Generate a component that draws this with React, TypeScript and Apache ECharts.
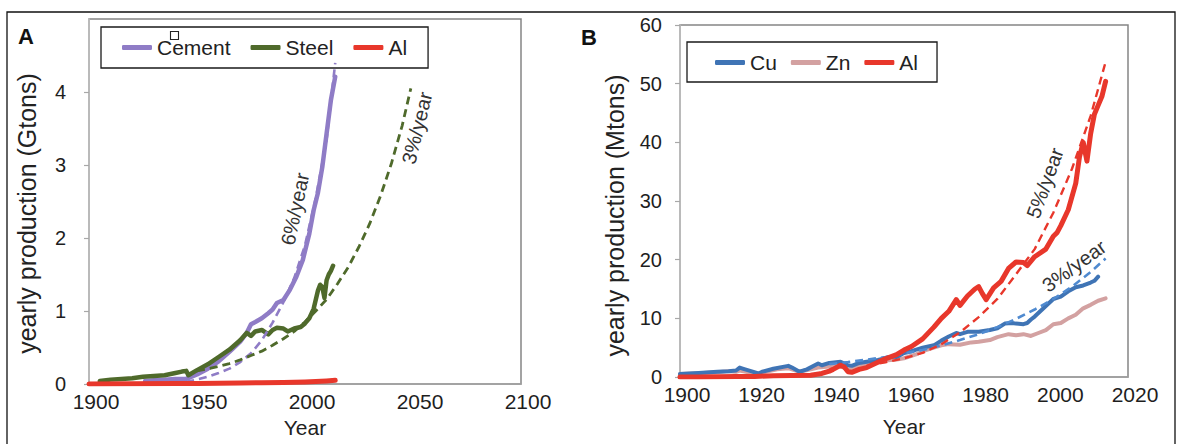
import React, { useEffect, useRef } from "react";
import * as echarts from "echarts";

const FONT = "'Liberation Sans', Arial, Helvetica, sans-serif";

// ---------- Panel A (Gtons) ----------
const cementYears = [1926, 1930, 1935, 1940, 1945, 1950, 1955, 1960, 1965, 1970, 1973, 1975, 1977, 1980, 1983, 1985, 1987, 1990, 1993, 1996, 1999, 2002, 2004, 2006, 2008, 2010, 2012, 2014];
const cementValues = [0.04, 0.05, 0.06, 0.07, 0.07, 0.13, 0.21, 0.31, 0.44, 0.58, 0.7, 0.82, 0.85, 0.9, 0.97, 1.02, 1.11, 1.15, 1.29, 1.47, 1.7, 2.06, 2.38, 2.62, 2.97, 3.43, 3.89, 4.21];
const cementTrendYears = [1945, 1950, 1955, 1960, 1965, 1970, 1975, 1980, 1985, 1990, 1995, 2000, 2005, 2010, 2014];
const cementTrendValues = [0.03, 0.06, 0.1, 0.15, 0.21, 0.3, 0.42, 0.6, 0.84, 1.12, 1.45, 1.9, 2.55, 3.35, 4.4];

const steelYears = [1905, 1910, 1915, 1920, 1925, 1930, 1935, 1940, 1943, 1945, 1946, 1950, 1955, 1960, 1965, 1970, 1973, 1975, 1977, 1980, 1983, 1985, 1987, 1990, 1992, 1995, 1998, 2000, 2002, 2004, 2006, 2007, 2008, 2009, 2010, 2011, 2012, 2013];
const steelValues = [0.04, 0.06, 0.07, 0.08, 0.1, 0.11, 0.12, 0.15, 0.17, 0.18, 0.12, 0.19, 0.27, 0.37, 0.47, 0.6, 0.7, 0.66, 0.72, 0.74, 0.68, 0.74, 0.77, 0.76, 0.72, 0.76, 0.78, 0.83, 0.9, 1.03, 1.28, 1.36, 1.33, 1.18, 1.42, 1.5, 1.55, 1.62];
const steelTrendYears = [1950, 1955, 1960, 1965, 1970, 1975, 1980, 1985, 1990, 1995, 2000, 2005, 2010, 2015, 2020, 2025, 2030, 2035, 2040, 2045, 2049];
const steelTrendValues = [0.18, 0.21, 0.24, 0.28, 0.33, 0.39, 0.45, 0.53, 0.62, 0.72, 0.85, 1.0, 1.16, 1.37, 1.6, 1.88, 2.2, 2.58, 3.02, 3.54, 4.05];

const alAYears = [1900, 1920, 1940, 1950, 1960, 1970, 1980, 1990, 2000, 2005, 2010, 2014];
const alAValues = [0.0, 0.003, 0.006, 0.008, 0.01, 0.014, 0.018, 0.022, 0.028, 0.034, 0.042, 0.05];

// ---------- Panel B (Mtons) ----------
const cuYears = [1900, 1905, 1910, 1913, 1915, 1916, 1917, 1919, 1921, 1922, 1925, 1929, 1930, 1932, 1934, 1937, 1938, 1940, 1943, 1945, 1946, 1948, 1950, 1953, 1955, 1957, 1958, 1960, 1962, 1965, 1968, 1970, 1972, 1974, 1975, 1977, 1980, 1983, 1985, 1987, 1989, 1990, 1992, 1993, 1994, 1995, 1997, 1999, 2000, 2002, 2004, 2006, 2008, 2010, 2011, 2012];
const cuValues = [0.5, 0.7, 0.9, 1.0, 1.1, 1.6, 1.4, 1.0, 0.6, 0.9, 1.4, 1.9, 1.6, 0.9, 1.3, 2.3, 2.0, 2.4, 2.6, 2.0, 1.9, 2.4, 2.6, 2.9, 3.2, 3.5, 3.4, 4.1, 4.4, 5.0, 5.4, 6.2, 6.9, 7.5, 7.3, 7.7, 7.7, 8.0, 8.3, 9.1, 9.2, 9.1, 9.0, 9.2, 9.8, 10.3, 11.5, 12.7, 13.3, 13.7, 14.6, 15.3, 15.6, 16.1, 16.4, 17.1];
const cuTrendYears = [1940, 1945, 1950, 1955, 1960, 1965, 1970, 1975, 1980, 1985, 1990, 1995, 2000, 2005, 2010, 2014];
const cuTrendValues = [2.2, 2.55, 2.95, 3.4, 4.0, 4.6, 5.4, 6.3, 7.3, 8.5, 9.9, 11.5, 13.3, 15.4, 17.9, 20.2];

const znYears = [1900, 1905, 1910, 1913, 1915, 1916, 1919, 1921, 1923, 1926, 1929, 1932, 1935, 1937, 1940, 1943, 1945, 1946, 1950, 1953, 1955, 1958, 1960, 1963, 1965, 1968, 1970, 1972, 1975, 1978, 1980, 1983, 1985, 1988, 1990, 1992, 1994, 1996, 1998, 2000, 2002, 2004, 2006, 2008, 2010, 2012, 2014];
const znValues = [0.5, 0.65, 0.8, 1.0, 0.9, 1.1, 0.7, 0.5, 0.9, 1.3, 1.5, 0.9, 1.3, 1.6, 1.8, 1.8, 1.3, 1.4, 2.1, 2.5, 2.8, 3.0, 3.2, 3.8, 4.4, 5.0, 5.4, 5.6, 5.5, 5.9, 6.0, 6.3, 6.8, 7.3, 7.1, 7.3, 7.0, 7.5, 8.0, 9.0, 9.2, 10.0, 10.6, 11.7, 12.3, 13.0, 13.4];

const alBYears = [1900, 1905, 1910, 1915, 1920, 1925, 1930, 1935, 1938, 1940, 1941, 1943, 1944, 1945, 1946, 1948, 1950, 1953, 1955, 1958, 1960, 1962, 1965, 1968, 1970, 1972, 1974, 1975, 1977, 1979, 1980, 1981, 1982, 1984, 1986, 1988, 1990, 1992, 1993, 1995, 1998, 2000, 2001, 2002, 2004, 2006, 2007, 2008, 2009, 2010, 2011, 2012, 2013, 2014];
const alBValues = [0.0, 0.0, 0.05, 0.1, 0.1, 0.2, 0.25, 0.3, 0.6, 1.0, 1.3, 2.0, 1.7, 0.9, 0.8, 1.3, 1.6, 2.5, 3.1, 3.8, 4.6, 5.2, 6.5, 8.5, 10.0, 11.2, 13.2, 12.2, 13.8, 15.0, 15.4, 14.2, 13.2, 15.2, 16.3, 18.5, 19.6, 19.5, 19.0, 20.5, 21.8, 24.0, 24.6, 25.8, 28.5, 33.0, 37.5, 40.0, 36.8, 41.5, 44.8, 46.3, 47.8, 50.4];
const alTrendYears = [1950, 1955, 1960, 1965, 1970, 1975, 1980, 1985, 1990, 1995, 2000, 2005, 2010, 2014];
const alTrendValues = [1.9, 2.5, 3.2, 4.1, 5.6, 7.6, 10.2, 13.3, 17.5, 21.8, 28.0, 35.5, 44.5, 53.7];

const zip = (xs: number[], ys: number[]) => xs.map((x, i) => [x, ys[i]]);

const C_CEMENT = "#8f7cc6";
const C_STEEL = "#4f6a2b";
const C_AL = "#e8372b";
const C_CU = "#3f74b5";
const C_CU_DASH = "#4f8ad0";
const C_ZN = "#d3a1a1";
const TXT = "#1e1e1e";

const solid = (name: string, data: number[][], color: string, idx: number, width = 4.5) => ({
  type: "line",
  name,
  xAxisIndex: idx,
  yAxisIndex: idx,
  data,
  color,
  showSymbol: false,
  symbol: "none",
  silent: true,
  lineStyle: { color, width, cap: "round", join: "round" },
});
const dashed = (name: string, data: number[][], color: string, idx: number, width = 2.6) => ({
  type: "line",
  name,
  xAxisIndex: idx,
  yAxisIndex: idx,
  data,
  color,
  showSymbol: false,
  symbol: "none",
  silent: true,
  lineStyle: { color, width, type: [8, 5] },
});

const xAxisBase = (idx: number, min: number, max: number, interval: number, nameGap: number) => ({
  type: "value",
  gridIndex: idx,
  min,
  max,
  interval,
  name: "Year",
  nameLocation: "middle",
  nameGap,
  nameTextStyle: { fontSize: 21, color: "#222", fontFamily: FONT },
  axisLine: { show: true, onZero: false, lineStyle: { color: "#a3a3a3", width: 1.5 } },
  axisTick: { show: false },
  splitLine: { show: false },
  axisLabel: { fontSize: 21, color: TXT, fontFamily: FONT, margin: 7, padding: [0, 0, 0, 14], formatter: (v: number) => String(v) },
});

const yAxisBase = (idx: number, max: number, interval: number, name: string, nameGap: number, shift: number, margin: number, showMax: boolean) => ({
  type: "value",
  gridIndex: idx,
  min: 0,
  max,
  interval,
  name,
  nameLocation: "middle",
  nameGap,
  nameTextStyle: { fontSize: 25, color: "#222", fontFamily: FONT, padding: [0, shift, 0, 0] },
  axisLine: { show: true, onZero: false, lineStyle: { color: "#c2c2c2", width: 1.5 } },
  axisTick: { show: true, inside: false, length: 5, lineStyle: { color: "#a8a8a8", width: 1.2 } },
  splitLine: { show: false },
  axisLabel: { fontSize: 20, color: TXT, fontFamily: FONT, margin, showMaxLabel: showMax, formatter: (v: number) => String(v) },
});

const annot = (text: string, x: number, y: number, deg: number) => ({
  type: "text",
  x,
  y,
  rotation: (deg * Math.PI) / 180,
  silent: true,
  style: { text, fontSize: 20, fontFamily: FONT, fill: "#333", align: "center", verticalAlign: "middle" },
});

const option = {
  animation: false,
  backgroundColor: "#ffffff",
  textStyle: { fontFamily: FONT },
  grid: [
    { left: 89, top: 19, width: 432, height: 365, show: true, borderColor: "#858585", borderWidth: 1.5, backgroundColor: "transparent" },
    { left: 680, top: 25, width: 448, height: 352, show: true, borderColor: "#858585", borderWidth: 1.5, backgroundColor: "transparent" },
  ],
  xAxis: [xAxisBase(0, 1900, 2100, 50, 32), xAxisBase(1, 1900, 2020, 20, 39)],
  yAxis: [
    yAxisBase(0, 5, 1, "yearly production (Gtons)", 50, 24, 23, false),
    yAxisBase(1, 60, 10, "yearly production (Mtons)", 53, 29, 18, true),
  ],
  legend: [
    {
      data: ["Cement", "Steel", "Al"],
      left: 101,
      top: 27,
      orient: "horizontal",
      icon: "roundRect",
      itemWidth: 30,
      itemHeight: 5,
      itemGap: 20,
      padding: [10, 21, 10, 21],
      borderColor: "#1a1a1a",
      borderWidth: 1.3,
      selectedMode: false,
      textStyle: { fontSize: 21, color: "#222", fontFamily: FONT },
    },
    {
      data: ["Cu", "Zn", "Al"],
      left: 687,
      top: 42,
      orient: "horizontal",
      icon: "roundRect",
      itemWidth: 30,
      itemHeight: 5,
      itemGap: 14,
      padding: [10, 19, 9, 28],
      borderColor: "#1a1a1a",
      borderWidth: 1.3,
      selectedMode: false,
      textStyle: { fontSize: 21, color: "#222", fontFamily: FONT },
    },
  ],
  series: [
    solid("Cement", zip(cementYears, cementValues), C_CEMENT, 0),
    solid("Steel", zip(steelYears, steelValues), C_STEEL, 0),
    dashed("Cement trend 6%/year", zip(cementTrendYears, cementTrendValues), C_CEMENT, 0),
    dashed("Steel trend 3%/year", zip(steelTrendYears, steelTrendValues), C_STEEL, 0, 2.8),
    solid("Al", zip(alAYears, alAValues), C_AL, 0, 5),
    solid("Zn", zip(znYears, znValues), C_ZN, 1, 4),
    solid("Cu", zip(cuYears, cuValues), C_CU, 1, 4),
    dashed("Cu trend 3%/year", zip(cuTrendYears, cuTrendValues), C_CU_DASH, 1, 2.6),
    solid("Al", zip(alBYears, alBValues), C_AL, 1, 5),
    dashed("Al trend 5%/year", zip(alTrendYears, alTrendValues), C_AL, 1, 2.4),
  ],
  graphic: [
    { type: "rect", silent: true, shape: { x: 7, y: 12, width: 1168, height: 460 }, style: { fill: "none", stroke: "#111", lineWidth: 1.3 } },
    { type: "text", x: 26, y: 36, silent: true, style: { text: "A", fontSize: 22, fontWeight: "bold", fontFamily: FONT, fill: "#111", align: "center", verticalAlign: "middle" } },
    { type: "text", x: 589, y: 37, silent: true, style: { text: "B", fontSize: 22, fontWeight: "bold", fontFamily: FONT, fill: "#111", align: "center", verticalAlign: "middle" } },
    { type: "rect", silent: true, shape: { x: 170.5, y: 31.5, width: 8, height: 8 }, style: { fill: "#fff", stroke: "#222", lineWidth: 1.1 } },
    annot("6%/year", 295, 209, 78),
    annot("3%/year", 417, 128, 76),
    annot("5%/year", 1045, 183, 70),
    annot("3%/year", 1074, 266, 36),
  ],
};

export default function App() {
  const ref = useRef<HTMLDivElement>(null);
  useEffect(() => {
    if (!ref.current) return;
    const chart = echarts.init(ref.current, null, { renderer: "svg" });
    chart.setOption(option as any);
    return () => chart.dispose();
  }, []);
  return (
    <div
      ref={ref}
      style={{ position: "absolute", left: 0, top: 0, width: 1178, height: 444, background: "#fff" }}
    />
  );
}
